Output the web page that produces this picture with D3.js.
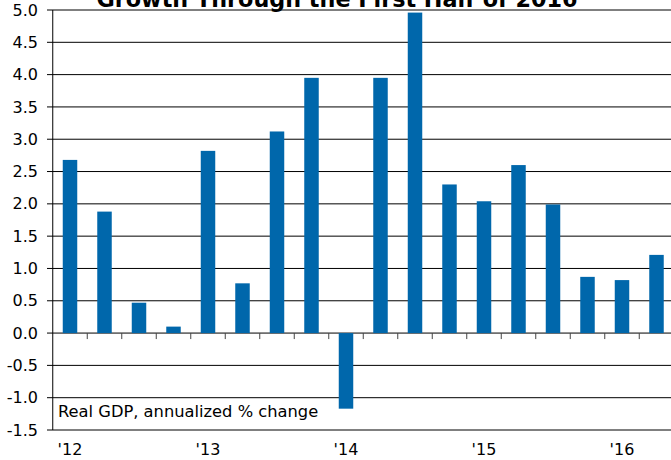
<!DOCTYPE html>
<html><head><meta charset="utf-8">
<script src="https://cdn.jsdelivr.net/npm/d3@7"></script>
<style>body{margin:0;background:#fff;}svg{display:block;}text{font-family:"DejaVu Sans",Verdana,sans-serif;}</style>
</head><body>
<svg id="c" width="671" height="460"></svg>
<script>
const quarters = ["2012Q1","2012Q2","2012Q3","2012Q4","2013Q1","2013Q2","2013Q3","2013Q4","2014Q1","2014Q2","2014Q3","2014Q4","2015Q1","2015Q2","2015Q3","2015Q4","2016Q1","2016Q2"];
const gdpGrowth = [2.68,1.88,0.47,0.10,2.82,0.77,3.12,3.95,-1.17,3.95,4.96,2.30,2.04,2.60,1.99,0.87,0.82,1.21];
const yTicks = [5.0,4.5,4.0,3.5,3.0,2.5,2.0,1.5,1.0,0.5,0.0,-0.5,-1.0,-1.5];
const yearLabels = {"2012Q1":"'12","2013Q1":"'13","2014Q1":"'14","2015Q1":"'15","2016Q1":"'16"};
const titleText = "Growth Through the First Half of 2016";
const noteText = "Real GDP, annualized % change";

(function(){
const svg = d3.select("#c");
const mLeft = 52.75, mTop = 10, mBottom = 430;
const band = 34.5;
const x = d3.scaleBand().domain(quarters).range([mLeft, mLeft + band*quarters.length]).paddingInner(0.58).paddingOuter(0.29);
const y = d3.scaleLinear().domain([-1.5,5.0]).range([mBottom, mTop]);

svg.append("g").selectAll("line").data(yTicks).join("line")
  .attr("x1", 47).attr("x2", 671)
  .attr("y1", d=>y(d)).attr("y2", d=>y(d))
  .attr("stroke", "#000").attr("stroke-width", 1);

svg.append("g").selectAll("text").data(yTicks).join("text")
  .attr("x", 38).attr("y", d=>y(d)).attr("dy","0.35em")
  .attr("text-anchor","end").attr("font-size",16).attr("fill","#000")
  .text(d=>d3.format(".1f")(d).replace("−","-"));

svg.append("g").selectAll("rect").data(quarters).join("rect")
  .attr("x", d=>x(d)).attr("width", x.bandwidth())
  .attr("y", (d,i)=>y(Math.max(0,gdpGrowth[i])))
  .attr("height", (d,i)=>Math.abs(y(gdpGrowth[i])-y(0)))
  .attr("fill","#0067ab");

const step = x.step();
svg.append("g").selectAll("line").data(quarters.slice(1)).join("line")
  .attr("x1", d=>x(d)-x.paddingInner()*step/2).attr("x2", d=>x(d)-x.paddingInner()*step/2)
  .attr("y1", y(0)).attr("y2", y(0)+6)
  .attr("stroke","#444").attr("stroke-width",1);

svg.append("line").attr("x1",mLeft).attr("x2",mLeft).attr("y1",y(5)).attr("y2",y(-1.5)).attr("stroke","#000");

svg.append("g").selectAll("text").data(quarters.filter(q=>yearLabels[q])).join("text")
  .attr("x", d=>x(d)+x.bandwidth()/2).attr("y", 455)
  .attr("text-anchor","middle").attr("font-size",16).attr("fill","#000")
  .text(d=>yearLabels[d]);

svg.append("text").attr("x",58).attr("y",417).attr("font-size",16.3).attr("fill","#000").text(noteText);

svg.append("text").attr("x",337).attr("y",7).attr("text-anchor","middle").attr("font-size",22.3).attr("font-weight","bold").attr("fill","#000").text(titleText);
})();
</script>
</body></html>
